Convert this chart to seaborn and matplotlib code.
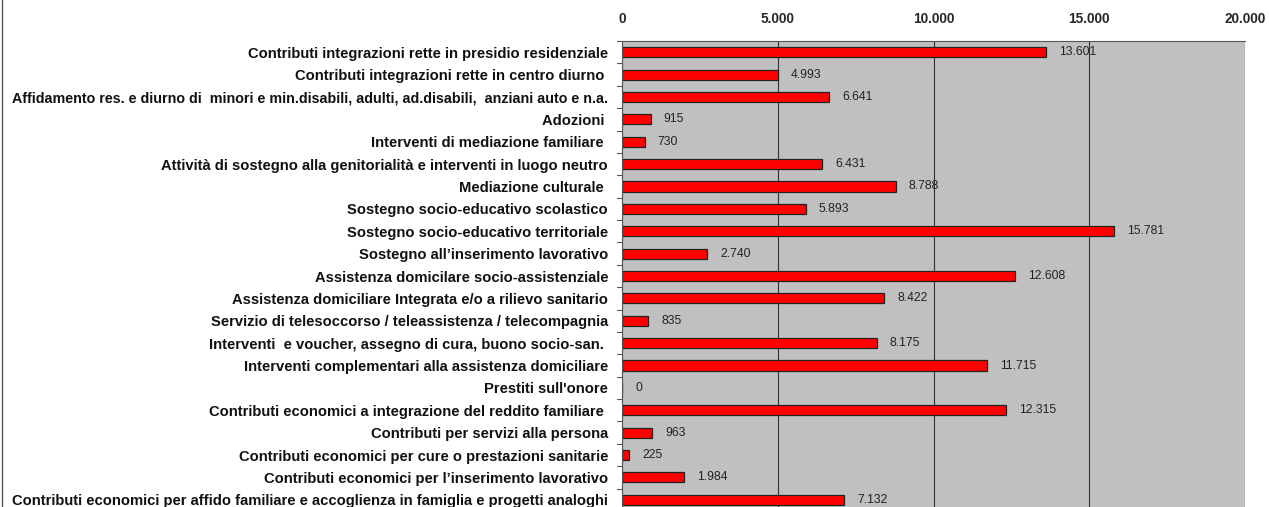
import pandas as pd
import matplotlib.pyplot as plt
import seaborn as sns
from matplotlib.ticker import FuncFormatter, MultipleLocator
from matplotlib.lines import Line2D

categories = [
    "Contributi integrazioni rette in presidio residenziale",
    "Contributi integrazioni rette in centro diurno ",
    "Affidamento res. e diurno di  minori e min.disabili, adulti, ad.disabili,  anziani auto e n.a.",
    "Adozioni ",
    "Interventi di mediazione familiare ",
    "Attività di sostegno alla genitorialità e interventi in luogo neutro",
    "Mediazione culturale ",
    "Sostegno socio-educativo scolastico",
    "Sostegno socio-educativo territoriale",
    "Sostegno all\u2019inserimento lavorativo",
    "Assistenza domicilare socio-assistenziale",
    "Assistenza domiciliare Integrata e/o a rilievo sanitario",
    "Servizio di telesoccorso / teleassistenza / telecompagnia",
    "Interventi  e voucher, assegno di cura, buono socio-san. ",
    "Interventi complementari alla assistenza domiciliare",
    "Prestiti sull'onore",
    "Contributi economici a integrazione del reddito familiare ",
    "Contributi per servizi alla persona",
    "Contributi economici per cure o prestazioni sanitarie",
    "Contributi economici per l\u2019inserimento lavorativo",
    "Contributi economici per affido familiare e accoglienza in famiglia e progetti analoghi",
]
values = [13601, 4993, 6641, 915, 730, 6431, 8788, 5893, 15781, 2740,
          12608, 8422, 835, 8175, 11715, 0, 12315, 963, 225, 1984, 7132]

df = pd.DataFrame({"categoria": categories, "valore": values})

sns.set_theme(style="white")
plt.rcParams['font.family'] = ['Liberation Sans', 'DejaVu Sans']


def dot_thousands(v, pos=None):
    return f"{int(v):,}".replace(",", ".")


fig = plt.figure(figsize=(12.69, 5.07), dpi=100)
ax = fig.add_axes([622 / 1269, 1 - 41 / 507 - 470 / 507, 623 / 1269, 470 / 507])
ax.set_facecolor("#c0c0c0")

sns.barplot(data=df, x="valore", y="categoria", orient="h", color="#ff0000",
            saturation=1, width=0.45, edgecolor="#222222", linewidth=0.9, ax=ax)

ax.set_xlim(0, 20000)
ax.set_ylim(len(categories) - 0.5, -0.5)
ax.xaxis.set_major_locator(MultipleLocator(5000))
ax.xaxis.set_major_formatter(FuncFormatter(dot_thousands))
ax.xaxis.tick_top()
ax.grid(axis="x", color="#333333", linewidth=0.8)
ax.set_axisbelow(True)
ax.set_xlabel("")
ax.set_ylabel("")

for lab in ax.get_xticklabels():
    lab.set_fontweight("bold")
    lab.set_fontsize(9.8)
ax.tick_params(axis="x", length=0, pad=11)
ax.tick_params(axis="y", length=0, pad=10)
for lab in ax.get_yticklabels():
    lab.set_fontweight("bold")
    lab.set_fontsize(10.6)
    lab.set_color("#111111")
    if lab.get_text().startswith("Affidamento"):
        lab.set_fontsize(10.3)

for sp in ["right", "bottom"]:
    ax.spines[sp].set_visible(False)
ax.spines["top"].set_color("#555555")
ax.spines["left"].set_color("#555555")
ax.spines["top"].set_linewidth(0.8)
ax.spines["left"].set_linewidth(0.8)

# small boundary ticks on the left spine
for i in range(len(categories) + 1):
    ax.plot([-0.008, 0], [i - 0.5, i - 0.5], transform=ax.get_yaxis_transform(),
            color="#555555", linewidth=0.8, clip_on=False)

for i, v in enumerate(values):
    ax.text(v + 420, i, dot_thousands(v), va="center", ha="left",
            fontsize=8.7, color="#222222")

fig.add_artist(Line2D([1.5 / 1269, 1.5 / 1269], [0, 1], color="#555555", linewidth=1))

fig.savefig("out.png", dpi=100)
